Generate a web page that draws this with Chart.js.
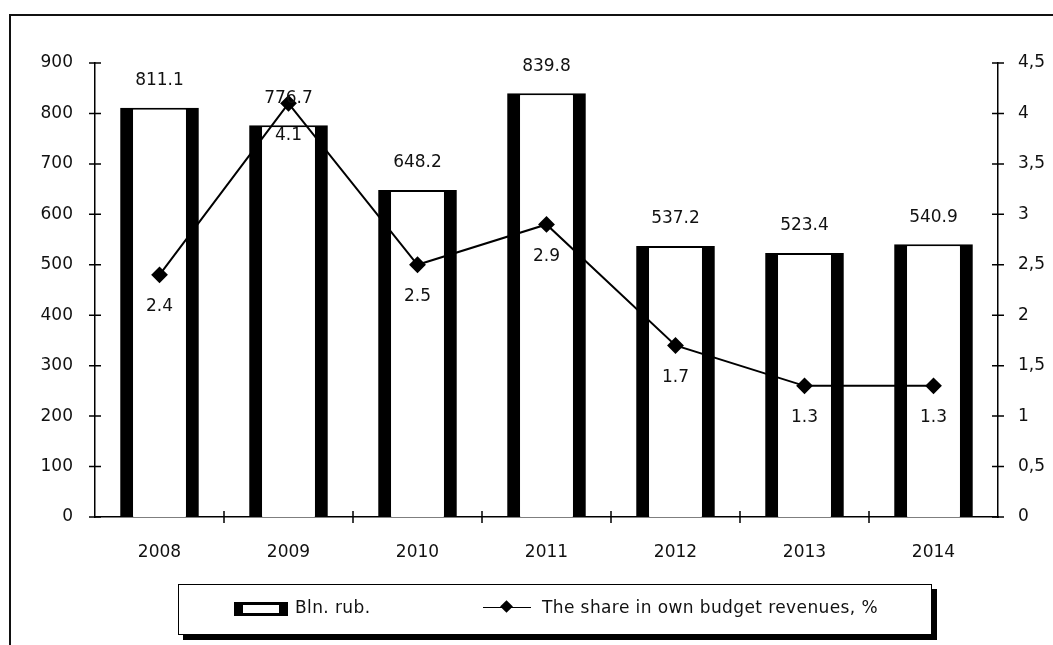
<!DOCTYPE html>
<html>
<head>
  <meta charset="utf-8">
  <title>Bln. rub. and share in own budget revenues</title>
  <script src="https://cdn.jsdelivr.net/npm/chart.js"></script>
  <style>
    html, body {
      margin: 0;
      padding: 0;
      background: white;
      font-family: 'DejaVu Sans', sans-serif;
    }
    .wrap {
      position: relative;
      width: 1053px;
      height: 645px;
      overflow: hidden;
    }
    .frame {
      position: absolute;
      left: 9px;
      top: 14px;
      width: 1100px;
      height: 700px;
      border-top: 2px solid #111;
      border-left: 2px solid #111;
    }
    canvas { position: absolute; left: 0; top: 0; }
    .legend {
      position: absolute;
      left: 178px;
      top: 584px;
      width: 752px;
      height: 49px;
      border: 1.5px solid #000;
      box-shadow: 5px 5px 0 #000;
      background: white;
      font-size: 17px;
      letter-spacing: 0.4px;
      color: #111;
    }
    .legend .item { position: absolute; top: 12px; }
    .barsym {
      position: absolute;
      left: 55px;
      top: 17px;
      width: 36px;
      height: 8px;
      border-style: solid;
      border-color: #000;
      border-width: 3px 9px 3px 9px;
    }
    .linesym {
      position: absolute;
      left: 304px;
      top: 22px;
      width: 48px;
      height: 0;
      border-top: 1.5px solid #000;
    }
    .linesym::after {
      content: '';
      position: absolute;
      left: 19px;
      top: -6px;
      width: 9px;
      height: 9px;
      background: #000;
      transform: rotate(45deg);
    }
  </style>
</head>
<body>
<div class="wrap">
  <div class="frame"></div>
  <canvas id="chart" width="1053" height="645"></canvas>
  <div class="legend">
    <div class="barsym"></div>
    <div class="item" style="left:116px">Bln. rub.</div>
    <div class="linesym"></div>
    <div class="item" style="left:363px">The share in own budget revenues, %</div>
  </div>
</div>

<script>
  const years = ['2008', '2009', '2010', '2011', '2012', '2013', '2014'];
  const blnRub = [811.1, 776.7, 648.2, 839.8, 537.2, 523.4, 540.9];
  const sharePct = [2.4, 4.1, 2.5, 2.9, 1.7, 1.3, 1.3];
  const leftTicks = [0, 100, 200, 300, 400, 500, 600, 700, 800, 900];
  const rightTicks = [0, 0.5, 1, 1.5, 2, 2.5, 3, 3.5, 4, 4.5];

  const FONT = { family: "'DejaVu Sans', sans-serif", size: 17 };

  // ticks that cross the axis lines, like the original
  const crossTicks = {
    id: 'crossTicks',
    afterDraw(chart) {
      const ctx = chart.ctx;
      const x = chart.scales.x, y = chart.scales.y, y1 = chart.scales.y1;
      ctx.save();
      ctx.strokeStyle = '#000';
      ctx.lineWidth = 1.5;
      ctx.beginPath();
      leftTicks.forEach(v => {
        const py = y.getPixelForValue(v);
        ctx.moveTo(y.right - 6, py); ctx.lineTo(y.right + 6, py);
      });
      rightTicks.forEach(v => {
        const py = y1.getPixelForValue(v);
        ctx.moveTo(y1.left - 6, py); ctx.lineTo(y1.left + 6, py);
      });
      const step = x.getPixelForValue(1) - x.getPixelForValue(0);
      for (let i = 1; i < years.length; i++) {
        const px = x.getPixelForValue(i) - step / 2;
        ctx.moveTo(px, x.top - 6); ctx.lineTo(px, x.top + 6);
      }
      ctx.stroke();
      ctx.restore();
    }
  };

  const valueLabels = {
    id: 'valueLabels',
    afterDatasetsDraw(chart) {
      const ctx = chart.ctx;
      ctx.save();
      ctx.font = FONT.size + 'px ' + FONT.family;
      ctx.fillStyle = '#111';
      ctx.textAlign = 'center';
      ctx.textBaseline = 'middle';
      chart.getDatasetMeta(1).data.forEach((el, i) => {
        ctx.fillText(blnRub[i].toFixed(1), el.x, el.y - 27);
      });
      chart.getDatasetMeta(0).data.forEach((el, i) => {
        ctx.fillText(sharePct[i].toFixed(1), el.x, el.y + 32);
      });
      ctx.restore();
    }
  };

  new Chart(document.getElementById('chart'), {
    data: {
      labels: years,
      datasets: [
        {
          type: 'line',
          label: 'The share in own budget revenues, %',
          data: sharePct,
          yAxisID: 'y1',
          borderColor: '#000',
          borderWidth: 2,
          backgroundColor: '#000',
          pointStyle: 'rectRot',
          pointRadius: 7,
          pointBackgroundColor: '#000',
          tension: 0,
          order: 0
        },
        {
          type: 'bar',
          label: 'Bln. rub.',
          data: blnRub,
          yAxisID: 'y',
          backgroundColor: '#fff',
          borderColor: '#000',
          borderWidth: { top: 2, left: 13, right: 13, bottom: 0 },
          borderSkipped: false,
          barPercentage: 0.61,
          categoryPercentage: 1,
          order: 1
        }
      ]
    },
    options: {
      responsive: false,
      animation: false,
      layout: { padding: { top: 63, bottom: 0, left: 0, right: 0 } },
      plugins: {
        legend: { display: false },
        tooltip: { enabled: false }
      },
      scales: {
        x: {
          offset: true,
          grid: { display: false },
          border: { display: true, color: '#000', width: 1.5 },
          ticks: { color: '#111', font: FONT, padding: 17 },
          afterFit(s) { s.height = 128; }
        },
        y: {
          position: 'left',
          min: 0,
          max: 900,
          afterBuildTicks(s) { s.ticks = leftTicks.map(v => ({ value: v })); },
          grid: { display: false },
          border: { display: true, color: '#000', width: 1.5 },
          ticks: { color: '#111', font: FONT, padding: 14 },
          afterFit(s) { s.width = 95; }
        },
        y1: {
          position: 'right',
          min: 0,
          max: 4.5,
          afterBuildTicks(s) { s.ticks = rightTicks.map(v => ({ value: v })); },
          grid: { display: false },
          border: { display: true, color: '#000', width: 1.5 },
          ticks: {
            color: '#111',
            font: FONT,
            padding: 12,
            callback: v => String(v).replace('.', ',')
          },
          afterFit(s) { s.width = 55; }
        }
      }
    },
    plugins: [crossTicks, valueLabels]
  });
</script>
</body>
</html>
